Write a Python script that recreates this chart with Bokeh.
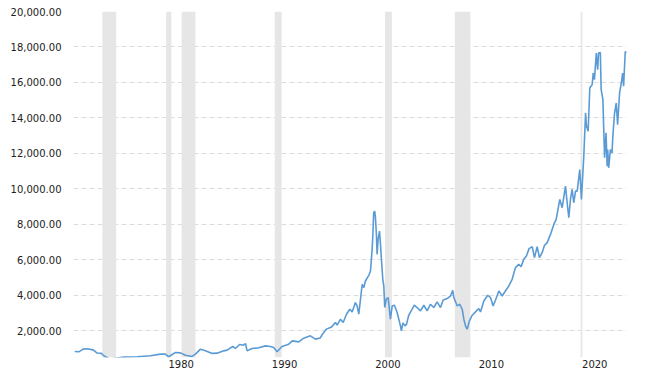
from bokeh.plotting import figure
from bokeh.models import Range1d, FixedTicker, NumeralTickFormatter, ColumnDataSource
from bokeh.embed import file_html
from bokeh.resources import INLINE

# ---- data ----
years = [
    1971.16, 1971.55, 1971.97, 1972.36, 1972.94, 1973.33, 1973.74, 1973.97, 1974.55, 1975.26,
    1975.90, 1977.20, 1978.48, 1979.45, 1979.93, 1980.25, 1980.90, 1981.38, 1981.87, 1982.51,
    1982.83, 1983.32, 1983.80, 1984.45, 1984.93, 1985.57, 1985.90, 1986.44, 1986.70, 1987.10,
    1987.48, 1987.67, 1987.83, 1988.30, 1988.95, 1989.60, 1990.08, 1990.40, 1990.73, 1991.20,
    1991.85, 1992.20, 1992.83, 1993.30, 1993.95, 1994.44, 1994.90, 1995.10, 1995.50, 1996.00,
    1996.37, 1996.53, 1996.86, 1997.12, 1997.44, 1997.76, 1997.99, 1998.30, 1998.47, 1998.63,
    1998.96, 1999.12, 1999.27, 1999.60, 1999.76, 1999.92, 2000.00, 2000.07, 2000.17, 2000.24,
    2000.34, 2000.40, 2000.50, 2000.63, 2000.72, 2000.82, 2000.95, 2001.05, 2001.14, 2001.28,
    2001.47, 2001.69, 2001.86, 2002.08, 2002.34, 2002.66, 2002.75, 2002.90, 2003.10, 2003.25,
    2003.46, 2003.79, 2004.00, 2004.27, 2004.60, 2004.92, 2005.24, 2005.56, 2005.88, 2006.21,
    2006.53, 2006.79, 2007.18, 2007.50, 2007.72, 2007.82, 2008.15, 2008.40, 2008.63, 2008.79,
    2008.95, 2009.11, 2009.33, 2009.60, 2009.92, 2010.23, 2010.40, 2010.72, 2011.10, 2011.37,
    2011.62, 2011.85, 2012.17, 2012.50, 2012.81, 2013.14, 2013.46, 2013.78, 2014.10, 2014.33,
    2014.58, 2014.84, 2015.10, 2015.40, 2015.62, 2015.88, 2016.10, 2016.36, 2016.59, 2016.85,
    2017.17, 2017.49, 2017.72, 2018.07, 2018.30, 2018.62, 2018.78, 2018.94, 2019.10, 2019.26,
    2019.42, 2019.59, 2019.75, 2020.00, 2020.16, 2020.39, 2020.56, 2020.65, 2020.81, 2020.97,
    2021.20, 2021.30, 2021.42, 2021.60, 2021.73, 2021.82, 2021.99, 2022.07, 2022.24, 2022.30,
    2022.40, 2022.54, 2022.65, 2022.70, 2022.80, 2022.96, 2023.12, 2023.20, 2023.36, 2023.53,
    2023.66, 2023.85, 2024.02, 2024.15, 2024.24, 2024.40, 2024.52,
]
values = [
    841, 820, 970, 990, 930, 750, 730, 600, 410, 470,
    520, 540, 595, 690, 690, 540, 785, 760, 630, 560,
    690, 970, 875, 730, 745, 875, 914, 1120, 1010, 1235,
    1195, 1290, 875, 1010, 1045, 1155, 1120, 1065, 820, 1120,
    1250, 1435, 1380, 1590, 1720, 1535, 1600, 1800, 2100, 2225,
    2472, 2320, 2658, 2472, 2940, 3221, 3070, 3597, 3406, 2940,
    4627, 4441, 4812, 5133, 5375, 6596, 7535, 8660, 8750, 8379,
    7344, 6315, 7158, 7625, 6973, 6033, 4908, 4531, 3316, 3783,
    3879, 2658, 3406, 3446, 3035, 2281, 2000, 2450, 2281, 2380,
    2880, 3221, 3446, 3316, 3125, 3446, 3125, 3502, 3316, 3631,
    3316, 3744, 3823, 3969, 4289, 3879, 3406, 3502, 3221, 2658,
    2281, 2096, 2563, 2883, 3070, 3260, 3070, 3688, 4008, 3879,
    3406, 3727, 4250, 3969, 4250, 4531, 4908, 5566, 5752, 5622,
    6033, 6220, 6635, 6748, 6127, 6748, 6127, 6410, 6821, 6973,
    7439, 8002, 8283, 9408, 8941, 10156, 9220, 8379, 9408, 9970,
    9220, 9876, 9876, 11096, 9408, 11844, 14284, 13533, 13252, 15691,
    15877, 16535, 16160, 17660, 16722, 17660, 17694, 15596, 15033, 13722,
    11754, 13160, 11281, 12221, 11191, 12221, 12034, 12972, 14246, 14846,
    13627, 15409, 15971, 16535, 15784, 17750, 17660,
]

recession_start = [1973.83, 1980.00, 1981.50, 1990.50, 2001.17, 2007.92, 2020.08]
recession_end   = [1975.17, 1980.50, 1982.83, 1991.17, 2001.83, 2009.42, 2020.25]

y_ticks = [2000, 4000, 6000, 8000, 10000, 12000, 14000, 16000, 18000, 20000]
x_tick_years = [1980, 1990, 2000, 2010, 2020]
x_labels = ["1980", "1990", "2000", "2010", "2020"]
y_min, y_max = 500, 20000
x_min, x_max = 1971.04, 2024.52

# labels sit to the right of their year mark (left-aligned text)
label_shift = 1.45
x_label_pos = [y + label_shift for y in x_tick_years]

# ---- figure ----
p = figure(width=630, height=372, output_backend="svg", toolbar_location=None,
           x_range=Range1d(x_min, x_max), y_range=Range1d(y_min, y_max),
           min_border_left=73, min_border_right=4, min_border_top=11, min_border_bottom=15)
p.outline_line_color = None
p.background_fill_color = "white"
p.border_fill_color = "white"

rec = ColumnDataSource(dict(left=recession_start, right=recession_end,
                            bottom=[y_min] * len(recession_start),
                            top=[y_max] * len(recession_start)))
p.quad(left="left", right="right", bottom="bottom", top="top", source=rec,
       fill_color="#e6e6e6", line_color=None)

src = ColumnDataSource(dict(x=years, y=values))
p.line("x", "y", source=src, line_color="#5b9bd5", line_width=1.6)

# grids
p.xgrid.visible = False
p.ygrid.ticker = FixedTicker(ticks=[y_min] + y_ticks)
p.ygrid.grid_line_color = "#dddddd"
p.ygrid.grid_line_dash = "5 3"
p.ygrid.grid_line_width = 1
p.ygrid.level = "underlay"

# y axis
p.yaxis.ticker = FixedTicker(ticks=y_ticks)
p.yaxis.formatter = NumeralTickFormatter(format="0,0.00")
p.yaxis.axis_line_color = None
p.yaxis.major_tick_line_color = None
p.yaxis.minor_tick_line_color = None
p.yaxis.major_label_standoff = 6
p.yaxis.major_label_text_font = "DejaVu Sans"
p.yaxis.major_label_text_font_size = "10px"
p.yaxis.major_label_text_color = "#222222"

# x axis
p.xaxis.ticker = FixedTicker(ticks=x_label_pos)
p.xaxis.major_label_overrides = {pos: lab for pos, lab in zip(x_label_pos, x_labels)}
p.xaxis.axis_line_color = None
p.xaxis.major_tick_line_color = None
p.xaxis.minor_tick_line_color = None
p.xaxis.major_tick_out = 0
p.xaxis.major_tick_in = 0
p.xaxis.major_label_standoff = 2
p.xaxis.major_label_text_font = "DejaVu Sans"
p.xaxis.major_label_text_font_size = "10px"
p.xaxis.major_label_text_color = "#222222"

open("out.html", "w").write(file_html(p, INLINE))
